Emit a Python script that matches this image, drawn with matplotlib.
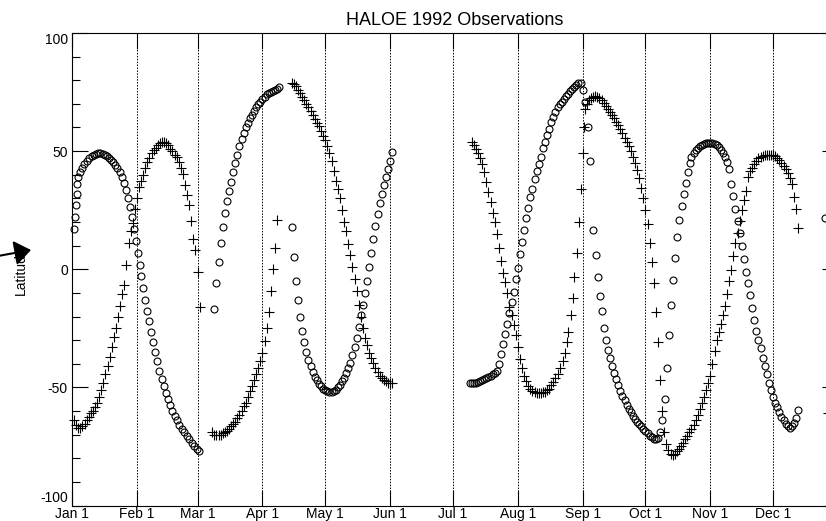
import numpy as np
import matplotlib
matplotlib.use('Agg')
import matplotlib.pyplot as plt
from matplotlib.patches import FancyArrowPatch
from matplotlib.ticker import FixedLocator, MultipleLocator

plt.rcParams['font.family'] = ['Liberation Sans', 'DejaVu Sans']
plt.rcParams['axes.unicode_minus'] = False

# day-of-year (Jan 1 = 0, 1992 is a leap year)
month_days = [0, 31, 60, 91, 121, 152, 182, 213, 244, 274, 305, 335]
month_labels = ['Jan 1', 'Feb 1', 'Mar 1', 'Apr 1', 'May 1', 'Jun 1',
                'Jul 1', 'Aug 1', 'Sep 1', 'Oct 1', 'Nov 1', 'Dec 1']
lat_ticks = [-100, -50, 0, 50, 100]

# ---- circle events ----
circ_jan_day = [0.9, 1.4, 1.9, 2.3, 2.6, 3.0, 3.9, 4.8, 5.8, 7.2,
                8.2, 9.6, 10.6, 11.6, 12.6, 13.6, 14.6, 15.6, 16.7, 17.7,
                18.7, 19.7, 20.7, 21.7, 22.7, 23.7, 24.7, 25.7, 26.8, 27.7,
                28.7, 29.6, 30.5, 31.4, 32.3, 33.2, 34.1, 35.0, 36.0, 36.9,
                37.9, 38.8, 39.8, 40.8, 41.8, 42.8, 43.8, 44.8, 45.8, 46.9,
                47.9, 49.0, 50.1, 51.2, 52.4, 53.6, 54.8, 56.0, 57.2, 58.4,
                59.6, 60.6]
circ_jan_lat = [17, 22, 27, 32, 36, 39, 41, 43, 44.5, 46,
                47, 48, 48.5, 48.8, 49, 49, 48.7, 48.3, 48, 47.2,
                46.3, 45.2, 44, 42.8, 41, 39, 36.5, 33.5, 30, 26.5,
                22, 17, 12, 7, 2, -3, -8, -13, -17.5, -22,
                -26.5, -31, -35, -39, -43, -46.5, -49.5, -52.5, -55, -57.5,
                -60, -62, -64, -66, -67.5, -69, -70.5, -72, -73.5, -75,
                -76, -77]

circ_mar_start = 68
circ_mar_lat = [-17, -6, 3, 11, 18, 24, 29, 33, 37, 41,
                45, 48.5, 52, 55, 57.5, 60, 62, 64, 65.5, 67,
                68.5, 70, 71, 72, 73, 74, 74.5, 75, 75.5, 76,
                76.5, 77]

circ_apr_start = 105
circ_apr_lat = [18, 5, -5, -13, -20, -26, -31, -35, -38.5, -41,
                -43.5, -45.5, -47, -48.5, -49.5, -50.5, -51, -51.5, -52, -52,
                -51.5, -51, -50, -49, -47.5, -46, -44, -42, -39.5, -36.5,
                -33, -29, -24.5, -19.5, -15, -10, -5, 1, 7, 13,
                18.5, 23.5, 28, 32, 35.5, 39, 42.5, 46, 49.5]

circ_jul_start = 190
circ_jul_lat = [-48, -48, -48, -48, -47.8, -47.5, -47, -46.5, -46, -45.5,
                -45, -44.5, -43.8, -43, -40, -36, -31.5, -27.5, -23, -18.5,
                -14, -9.5, -4, 0.5, 6.5, 11.5, 16.5, 21.5, 26, 30.5,
                34, 38, 41.5, 44.5, 47.5, 51.5, 54, 56.7, 59.5, 62.5,
                64.5, 66.5, 68.5, 70, 71, 72, 73.3, 74.3, 75.3, 76.3,
                77, 78, 78.7, 79]

circ_sep_day = [244.2, 245.2, 246.6, 247.6, 249.0, 250.4, 251.4, 252.3,
                253.3, 254.2, 255.1, 256.1, 257.2]
circ_sep_lat = [76, 71, 60, 46, 16.5, 6, -3.4, -11.4,
                -17.8, -25, -30, -34, -37.7]

circ_sepb_start = 258
circ_sepb_lat = [-41, -44, -46.5, -49, -51.5, -53.5, -55.5, -57.5, -59, -60.5,
                 -62, -63.5, -64.5, -65.5, -66.5, -67.5, -68.5, -69.5, -70.5, -71.2,
                 -71.8, -72, -71.5]

circ_oct_day = [281, 282, 283.4, 284.4, 285.3, 286.3, 287.2, 288.2,
                289.1, 290.1, 291.5, 292.5, 293.4, 294.4, 295.4]
circ_oct_lat = [-69, -64, -55, -42, -28, -15, -4.4, 4.7,
                13.5, 20.7, 26.7, 31.7, 36.4, 41, 45]

circ_nov_start = 296
circ_nov_lat = [47.5, 49, 50.3, 51.3, 52.2, 52.8, 53.2, 53.5, 53.6, 53.6,
                53.4, 53, 52.4, 51.6, 50.5, 49, 47.5, 45.5, 42.5, 36,
                31, 25.5, 20.5, 15.5, 10, 4.5, -1, -6, -11, -16.5,
                -21.5, -26, -30, -33.5, -37.5, -41, -44.5, -48, -51, -54,
                -56.5, -58.5, -60.5, -62.5, -64, -65.5, -66.5, -67, -66.5, -65,
                -63, -59.5]

circ_dec_day = [359.9]
circ_dec_lat = [21.5]

# ---- plus events ----
plus_jan_start = 1
plus_jan_lat = [-64, -66, -67, -67, -66.5, -65.5, -64, -62.5, -61, -60,
                -58.5, -56.5, -54, -51, -48, -44.5, -41, -37, -33, -28.5,
                -25, -20, -15.5, -10.5, -6.5, 2, 11, 16, 19.5, 25.5,
                30, 35, 37.5, 40, 43, 45.5, 47, 49, 50.5, 51.5,
                52.5, 53.3, 53.8, 54, 53.6, 52.5, 51, 50, 48.5, 47.5,
                45.5, 43, 40.5, 35.5, 31.3, 27, 20.5, 13, 8, -1,
                -16]

plus_mar_start = 67
plus_mar_lat = [-69, -70, -70, -70, -70, -69.5, -69, -68.5, -67.5, -66.5,
                -65.5, -64.5, -63, -61.5, -60, -58, -56.5, -54, -51.5, -49.5,
                -47, -44.5, -42, -39, -35.5, -30.5, -25, -18, -9, 0,
                9, 21]

plus_apr_start = 105
plus_apr_lat = [79, 78.5, 77.5, 76, 74.5, 73, 71.5, 70, 68.5, 67,
                65.5, 63.5, 62, 60.5, 58.5, 56.5, 54.5, 52, 49, 46,
                41.5, 37.5, 34, 30, 25, 20, 16, 10.5, 6, 1,
                -4, -9, -15, -20, -25, -29, -32, -35.5, -37.5, -39.5,
                -42, -43.5, -45, -46, -47, -47.5, -48, -48.3, -48.3]

plus_jul_start = 191
plus_jul_lat = [54, 52.5, 51, 49, 47, 44.5, 41, 37, 32.5, 28.5,
                24, 20, 15, 9, 3.5, -1.5, -5.5, -10, -16, -19.5,
                -23.5, -28, -33, -38, -42, -45, -47.5, -49.5, -50.8, -51.6,
                -52.1, -52.4, -52.5, -52.4, -52.1, -51.8, -51.2, -50.5, -49, -47.8,
                -46, -44.5, -42]

plus_aug_day = [234.6, 235.6, 236.6, 237.2, 238.5, 239.4, 239.9, 241.3,
                242.3, 243.2, 244.1, 244.4, 245.2]
plus_aug_lat = [-39, -35.5, -31, -26.7, -19.5, -12.3, -3.4, 6.8,
                20, 34, 49, 60, 68]

plus_sep_start = 246
plus_sep_lat = [70, 71.5, 72.5, 73, 73.2, 73, 72.5, 71.5, 70.2, 69,
                68, 66.7, 65.2, 64, 62.5, 61, 59.5, 57.5, 55.5, 54,
                52, 50, 47.5, 45, 42, 38.5, 34.5, 30, 25, 19,
                11, 3, -6, -18, -31, -47, -60, -69, -74, -76.5,
                -78, -78.5, -78, -77, -76, -75, -73.5, -72, -70.5, -69,
                -67.5, -66, -64, -61.5, -59, -56.5, -54, -51, -48, -45,
                -40, -34.5, -30, -26.5, -23, -19.5, -15.5, -10.5, -5, -0.5,
                5.5, 11, 15.5, 20.5, 25, 29.5, 33, 39, 41.5, 43,
                44.5, 46, 47, 47.6, 48, 48.2, 48.3, 48.3, 48.3, 48.2,
                47.8, 47.2, 46.2, 45, 43.8, 42.5, 40.8, 38.5, 36, 30.5,
                25.5, 17.5]

plus_dec_day = [361]
plus_dec_lat = [-61]


def daily(start, lats):
    return np.arange(start, start + len(lats))


circ_day = np.concatenate([
    circ_jan_day, daily(circ_mar_start, circ_mar_lat),
    daily(circ_apr_start, circ_apr_lat), daily(circ_jul_start, circ_jul_lat),
    circ_sep_day, daily(circ_sepb_start, circ_sepb_lat),
    circ_oct_day, daily(circ_nov_start, circ_nov_lat), circ_dec_day])
circ_lat = np.concatenate([
    circ_jan_lat, circ_mar_lat, circ_apr_lat, circ_jul_lat, circ_sep_lat,
    circ_sepb_lat, circ_oct_lat, circ_nov_lat, circ_dec_lat])

plus_day = np.concatenate([
    daily(plus_jan_start, plus_jan_lat), daily(plus_mar_start, plus_mar_lat),
    daily(plus_apr_start, plus_apr_lat), daily(plus_jul_start, plus_jul_lat),
    plus_aug_day, daily(plus_sep_start, plus_sep_lat), plus_dec_day])
plus_lat = np.concatenate([
    plus_jan_lat, plus_mar_lat, plus_apr_lat, plus_jul_lat, plus_aug_lat,
    plus_sep_lat, plus_dec_lat])

W, H = 826, 521
fig = plt.figure(figsize=(W / 100, H / 100), dpi=100)
# the right edge of the frame runs past the figure edge
ax = fig.add_axes([72 / W, 1 - 505.5 / H, 766 / W, 472.5 / H])

ax.plot(circ_day, circ_lat, 'o', ms=5, mfc='none', mec='k', mew=0.8,
        clip_on=False, zorder=3)
ax.plot(plus_day, plus_lat, '+', ms=6.5, mec='k', mew=0.8,
        clip_on=False, zorder=3)

ax.set_xlim(0, 366)
ax.set_ylim(-100, 100)
ax.set_xticks(month_days)
ax.set_xticklabels(month_labels)
ax.yaxis.set_major_locator(FixedLocator(lat_ticks))
ax.yaxis.set_minor_locator(MultipleLocator(10))
ax.grid(True, axis='x', color='k', linestyle=(0, (1.5, 1.5)), lw=0.7)
ax.tick_params(axis='both', which='major', direction='in', length=11.5,
               width=0.8, top=True, right=True, labelsize=10, color='k')
ax.tick_params(axis='y', which='minor', direction='in', length=5.8,
               width=0.8, right=True)
ax.tick_params(axis='x', pad=1)
ax.tick_params(axis='y', pad=3)
for s in ax.spines.values():
    s.set_linewidth(0.8)

ax.set_title('HALOE 1992 Observations', fontsize=13, pad=6)

fig.text(21 / W, 1 - 270 / H, 'Latitude', rotation=90, ha='center',
         va='center', fontsize=10)
fig.add_artist(FancyArrowPatch(posA=(-2 / W, 1 - 256 / H),
                               posB=(31 / W, 1 - 250 / H),
                               transform=fig.transFigure,
                               arrowstyle='-|>,head_length=0.4,head_width=0.3',
                               mutation_scale=25, lw=1.5, color='k',
                               shrinkA=0, shrinkB=0))

# end labels sit inside the frame height
fig.canvas.draw()
for tick in ax.yaxis.get_major_ticks():
    if tick.get_loc() == lat_ticks[0]:
        tick.label1.set_va('bottom')
    elif tick.get_loc() == lat_ticks[-1]:
        tick.label1.set_va('top')

fig.savefig('out.png', dpi=100)
